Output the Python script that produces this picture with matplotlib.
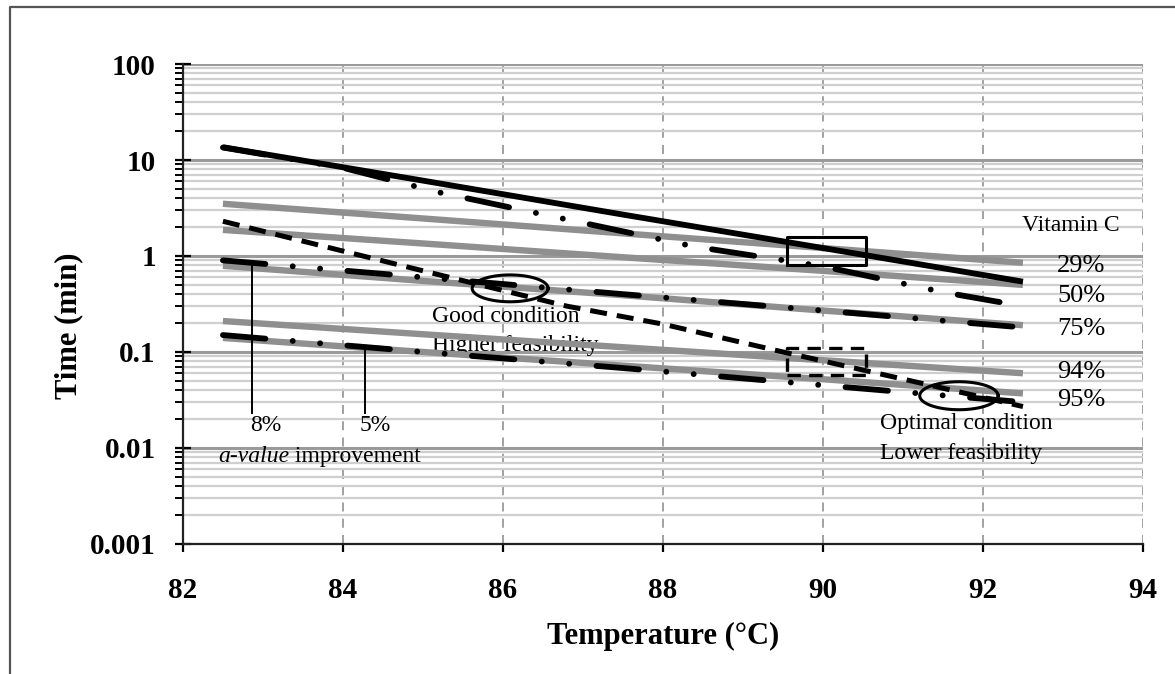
import numpy as np
import matplotlib
matplotlib.use('Agg')
import matplotlib.pyplot as plt
from matplotlib.lines import Line2D
from matplotlib.ticker import LogLocator, NullFormatter, FuncFormatter

plt.rcParams['font.family'] = ['Liberation Serif', 'DejaVu Serif']

# valores (temperatura em C, tempo em min)
temp_gray = [82.5, 85, 87.5, 90, 92.5]
gray_29 = [3.5, 2.46, 1.72, 1.21, 0.85]
gray_50 = [1.87, 1.35, 0.97, 0.70, 0.50]
gray_75 = [0.79, 0.55, 0.39, 0.27, 0.19]
gray_94 = [0.21, 0.153, 0.112, 0.082, 0.06]
gray_95 = [0.14, 0.10, 0.072, 0.052, 0.037]

temp_solid = [82.5, 85, 87.5, 90, 92.5]
black_solid = [13.6, 6.1, 2.7, 1.21, 0.54]

temp_dd50 = [82.5, 84, 85.2, 86.7, 88.4, 90, 91.5, 92.5]
dd_50 = [13.5, 8.3, 4.6, 2.5, 1.25, 0.78, 0.42, 0.30]

temp_dd = [82.5, 85, 87.5, 90, 92.5]
dd_75 = [0.9, 0.6, 0.40, 0.27, 0.18]
dd_95 = [0.15, 0.10, 0.068, 0.045, 0.030]

temp_dash = [82.5, 83.9, 85.4, 86.8, 88, 89.5, 91.1, 92.5]
dashed = [2.3, 1.18, 0.58, 0.30, 0.195, 0.10, 0.05, 0.027]

vitc_labels = ['29%', '50%', '75%', '94%', '95%']
vitc_label_y = [0.787, 0.383, 0.174, 0.062, 0.0316]

GRAY = '#8f8f8f'

fig = plt.figure(figsize=(11.75, 6.74), dpi=100)
ax = fig.add_axes([0.1557, 0.193, 0.817, 0.712])
ax.set_yscale('log')
ax.set_xlim(82, 94)
ax.set_ylim(0.001, 100)
ax.set_xticks(range(82, 95, 2))
ax.yaxis.set_minor_locator(LogLocator(base=10, subs=range(2, 10), numticks=20))
ax.yaxis.set_minor_formatter(NullFormatter())
ax.yaxis.set_major_formatter(FuncFormatter(lambda v, p: f'{v:g}'))

ax.set_axisbelow(True)
ax.yaxis.grid(True, which='major', color='#9a9a9a', lw=2.2)
ax.yaxis.grid(True, which='minor', color='#cfcfcf', lw=1.6)
ax.xaxis.grid(True, which='major', color='#9a9a9a', lw=1.3, ls=(0, (5, 4)))

for s in ['top', 'right']:
    ax.spines[s].set_visible(False)
for s in ['left', 'bottom']:
    ax.spines[s].set_color('#222222')
    ax.spines[s].set_linewidth(1.6)

ax.tick_params(axis='y', which='major', direction='inout', length=11, width=1.6,
               labelsize=21, pad=14)
ax.tick_params(axis='y', which='minor', direction='out', length=6, width=1.4)
ax.tick_params(axis='x', which='major', direction='out', length=6, width=1.6,
               labelsize=21, pad=18)
for lab in ax.get_xticklabels() + ax.get_yticklabels():
    lab.set_fontweight('bold')

ax.set_xlabel('Temperature (°C)', fontsize=22, fontweight='bold')
ax.set_ylabel('Time (min)', fontsize=22, fontweight='bold')
ax.xaxis.set_label_coords(0.5, -0.163)
ax.yaxis.set_label_coords(-0.104, 0.454)

# linhas cinzas
for vals in [gray_29, gray_50, gray_75, gray_94, gray_95]:
    ax.plot(temp_gray, vals, color=GRAY, lw=4.6, solid_capstyle='butt', zorder=3)

# linhas pretas
ax.plot(temp_solid, black_solid, color='black', lw=4.2, solid_capstyle='butt', zorder=4)
ddash = (0, (7.3, 4.7, 0.01, 4.7, 0.01, 4.7))
for t, vals in [(temp_dd50, dd_50), (temp_dd, dd_75), (temp_dd, dd_95)]:
    ax.plot(t, vals, color='black', lw=4.2, ls=ddash, dash_capstyle='round', zorder=4)
ax.plot(temp_dash, dashed, color='black', lw=3.6, ls=(0, (3.4, 2.0)),
        dash_capstyle='butt', zorder=4)

# retangulos
ax.plot([89.55, 90.54, 90.54, 89.55, 89.55], [0.8, 0.8, 1.58, 1.58, 0.8],
        color='black', lw=2.2, zorder=5)
ax.plot([89.55, 90.54, 90.54, 89.55, 89.55], [0.057, 0.057, 0.110, 0.110, 0.057],
        color='black', lw=2.4, ls=(0, (4, 2.5)), zorder=5)

# elipses
tt = np.linspace(0, 2 * np.pi, 200)
for cx, cy, rx, ry in [(86.09, 0.46, 0.475, 0.14), (91.7, 0.035, 0.49, 0.146)]:
    ax.plot(cx + rx * np.cos(tt), 10 ** (np.log10(cy) + ry * np.sin(tt)),
            color='black', lw=2.2, zorder=5)

# linhas de melhoria
ax.plot([82.86, 82.86], [0.845, 0.0232], color='black', lw=1.4, zorder=5)
ax.plot([84.28, 84.28], [0.113, 0.0232], color='black', lw=1.4, zorder=5)

fs = 17
ax.text(85.11, 0.232, 'Good condition', fontsize=fs, va='center', ha='left', zorder=2)
ax.text(85.11, 0.118, 'Higher feasibility', fontsize=fs, va='center', ha='left', zorder=2)
ax.text(90.71, 0.0178, 'Optimal condition', fontsize=fs, va='center', ha='left', zorder=2)
ax.text(90.71, 0.00866, 'Lower feasibility', fontsize=fs, va='center', ha='left', zorder=2)
ax.text(92.49, 2.1, 'Vitamin C', fontsize=17, va='center', ha='left')
for lab, yv in zip(vitc_labels, vitc_label_y):
    ax.text(92.93, yv, lab, fontsize=19, va='center', ha='left')
ax.text(83.03, 0.017, '8%', fontsize=fs, va='center', ha='center')
ax.text(84.4, 0.017, '5%', fontsize=fs, va='center', ha='center')
t1 = ax.text(82.44, 0.0063, 'a-value', fontsize=fs, style='italic', va='bottom', ha='left')
ax.annotate(' improvement', xy=(1, 0), xycoords=t1, fontsize=fs, va='bottom', ha='left')

# moldura externa
fig.add_artist(Line2D([0.0085, 0.0085, 1.0], [0.0, 0.9896, 0.9896],
                      color='#555555', lw=1.6))

fig.savefig('out.png', dpi=100)
